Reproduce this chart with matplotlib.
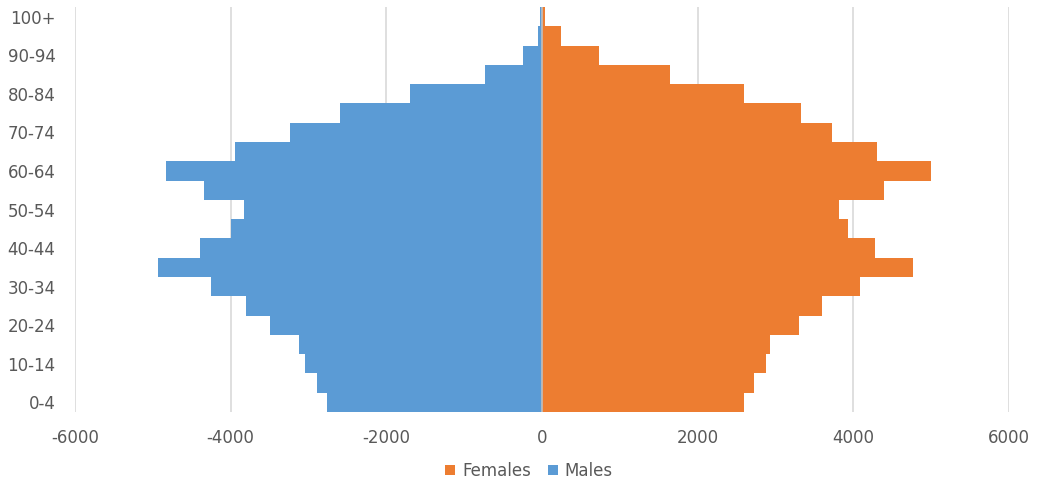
import matplotlib

matplotlib.use("Agg")
import matplotlib.pyplot as plt
import numpy as np

# age groups, youngest first
age_groups = ["0-4", "5-9", "10-14", "15-19", "20-24", "25-29", "30-34", "35-39",
              "40-44", "45-49", "50-54", "55-59", "60-64", "65-69", "70-74", "75-79",
              "80-84", "85-89", "90-94", "95-99", "100+"]
males = [2760, 2885, 3047, 3117, 3490, 3800, 4250, 4928, 4392, 3992, 3825,
         4340, 4836, 3941, 3233, 2597, 1700, 734, 245, 50, 25]
females = [2600, 2719, 2880, 2926, 3301, 3602, 4090, 4765, 4277, 3929, 3814,
           4396, 4998, 4302, 3721, 3326, 2600, 1645, 735, 247, 35]
x_ticks = [-6000, -4000, -2000, 0, 2000, 4000, 6000]

BLUE = "#5B9BD5"
ORANGE = "#ED7D31"
TEXT = "#595959"

plt.rcParams["font.family"] = ["DejaVu Sans"]

fig = plt.figure(figsize=(10.37, 4.84), dpi=100)
ax = fig.add_axes([75 / 1037, 1 - 412 / 484, (1009 - 75) / 1037, (412 - 7) / 484])

y = np.arange(len(age_groups))
ax.barh(y, females, height=1.0, color=ORANGE, linewidth=0, label="Females", zorder=2)
ax.barh(y, [-m for m in males], height=1.0, color=BLUE, linewidth=0, label="Males", zorder=2)
ax.axvline(0, color="#BFBFBF", linewidth=1.2, zorder=3)

ax.set_xlim(-6000, 6000)
ax.set_ylim(-0.5, len(age_groups) - 0.5)
ax.set_xticks(x_ticks)
ax.set_xticklabels([str(t) for t in x_ticks])
ax.set_yticks(y[::2])
ax.set_yticklabels(age_groups[::2])
ax.grid(axis="x", color="#D9D9D9", linewidth=1.2, zorder=0)
ax.set_axisbelow(True)
for s in ax.spines.values():
    s.set_visible(False)
ax.tick_params(axis="both", length=0, colors=TEXT, labelsize=12)
ax.tick_params(axis="y", pad=14)
ax.tick_params(axis="x", pad=12)

fig.legend(loc="center", bbox_to_anchor=(0.51, 0.027), ncol=2, frameon=False,
           fontsize=12, labelcolor=TEXT, handlelength=0.6, handleheight=0.6,
           handletextpad=0.4, columnspacing=1.0)

fig.savefig("out.png", dpi=100)
